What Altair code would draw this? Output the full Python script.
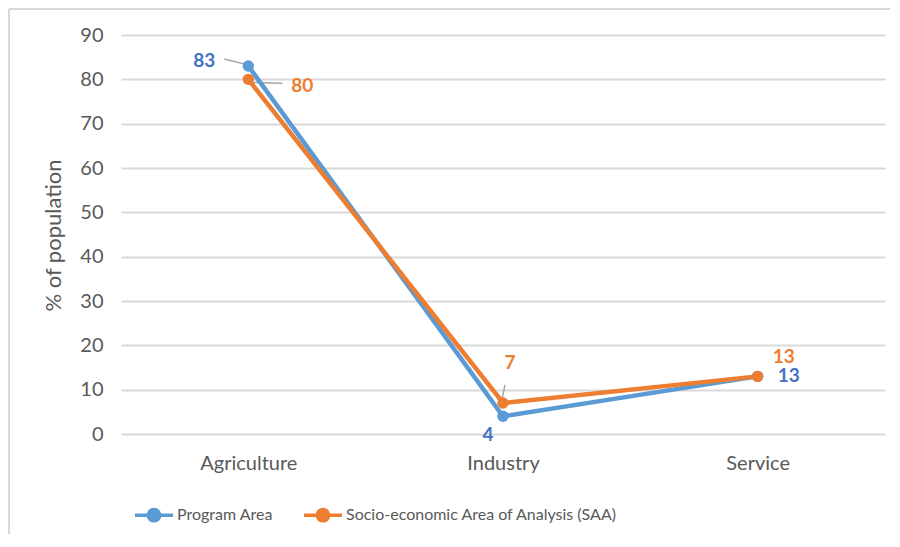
import altair as alt
import pandas as pd

categories = ["Agriculture", "Industry", "Service"]
series_names = ["Program Area", "Socio-economic Area of Analysis (SAA)"]
program_area = [83, 4, 13]
saa = [80, 7, 13]

rows = []
for s, vals in zip(series_names, [program_area, saa]):
    for c, v in zip(categories, vals):
        rows.append({"category": c, "series": s, "value": v})
df = pd.DataFrame(rows)

FONT = "Lato"
GRAY = "#595959"
GRID = "#D9D9D9"
BLUE = "#5B9BD5"
ORANGE = "#ED7D31"
BLUE_LBL = "#4472C4"

color_scale = alt.Scale(domain=series_names, range=[BLUE, ORANGE])

legend_path = ("M-1,0L-0.3,0M0.3,0L1,0"
               "M-0.3,0A0.3,0.3,0,1,0,0.3,0A0.3,0.3,0,1,0,-0.3,0Z")

x_enc = alt.X("category:N", sort=categories, scale=alt.Scale(type="point", padding=0.5),
              axis=alt.Axis(title=None, labelAngle=0, labelAlign="center", ticks=False,
                            domain=False, labelPadding=29, labelFontSize=20,
                            labelColor=GRAY, labelFont=FONT))
y_enc = alt.Y("value:Q", scale=alt.Scale(domain=[0, 90]),
              axis=alt.Axis(title="% of population", values=list(range(0, 91, 10)),
                            ticks=False, domain=False, gridColor=GRID, gridWidth=1.8,
                            labelPadding=18, labelFontSize=20, labelColor=GRAY,
                            labelFont=FONT, titleFont=FONT, titleFontSize=22,
                            titleFontWeight="normal", titleColor=GRAY,
                            titleX=-68, titleY=200, titleAngle=-90,
                            titleAlign="center", titleBaseline="middle"))

base = alt.Chart(df)

lines = base.mark_line(strokeWidth=4.5, point=alt.OverlayMarkDef(filled=True, size=130, opacity=1)).encode(
    x=x_enc, y=y_enc,
    color=alt.Color("series:N", scale=color_scale, sort=series_names,
                    legend=alt.Legend(title=None, orient="none", direction="horizontal",
                                      legendX=12, legendY=459, symbolType=legend_path,
                                      symbolSize=1444, symbolStrokeWidth=3.5,
                                      labelFont=FONT, labelFontSize=16, labelColor=GRAY,
                                      labelLimit=0, labelOffset=2, columnPadding=24)),
    order=alt.Order("series:N"),
)

def label(series, cat, color, dx, dy):
    return base.transform_filter(
        (alt.datum.series == series) & (alt.datum.category == cat)
    ).mark_text(font=FONT, fontSize=19, fontWeight="bold", color=color,
                dx=dx, dy=dy, align="center", baseline="middle").encode(
        x=alt.X("category:N", sort=categories), y="value:Q", text="value:Q")

def leader(series, cat, x0, y0, x1, y1):
    return base.transform_filter(
        (alt.datum.series == series) & (alt.datum.category == cat)
    ).mark_rule(color="#A6A6A6", strokeWidth=1.5, xOffset=x0, yOffset=y0,
                x2Offset=x1, y2Offset=y1).encode(
        x=alt.X("category:N", sort=categories), x2="category:N",
        y="value:Q", y2="value:Q")

P, S = series_names
layers = [
    leader(P, "Agriculture", -24, -7, -4, -2),
    leader(S, "Agriculture", 4, 3, 34, 4),
    leader(S, "Industry", 2, -18, -1, -4),
    lines,
    label(P, "Agriculture", BLUE_LBL, -44, -5),
    label(S, "Agriculture", ORANGE, 54, 7),
    label(S, "Industry", ORANGE, 7, -40),
    label(P, "Industry", BLUE_LBL, -15, 19),
    label(S, "Service", ORANGE, 26, -19),
    label(P, "Service", BLUE_LBL, 31, 0),
]

frame = alt.Chart(df).mark_rule(color=GRID, strokeWidth=2).encode(
    x=alt.value(-112), x2=alt.value(-112), y=alt.value(-26), y2=alt.value(510))
frame_top = alt.Chart(df).mark_rule(color=GRID, strokeWidth=2).encode(
    x=alt.value(-112), x2=alt.value(770), y=alt.value(-26), y2=alt.value(-26))

chart = alt.layer(frame, frame_top, *layers).properties(
    width=764, height=399,
    padding={"left": 113, "top": 27, "right": 5, "bottom": 100},
    autosize=alt.AutoSizeParams(type="none"),
).configure_view(stroke=None)

chart.save("out.html", embed_options={"renderer": "svg", "actions": False})
